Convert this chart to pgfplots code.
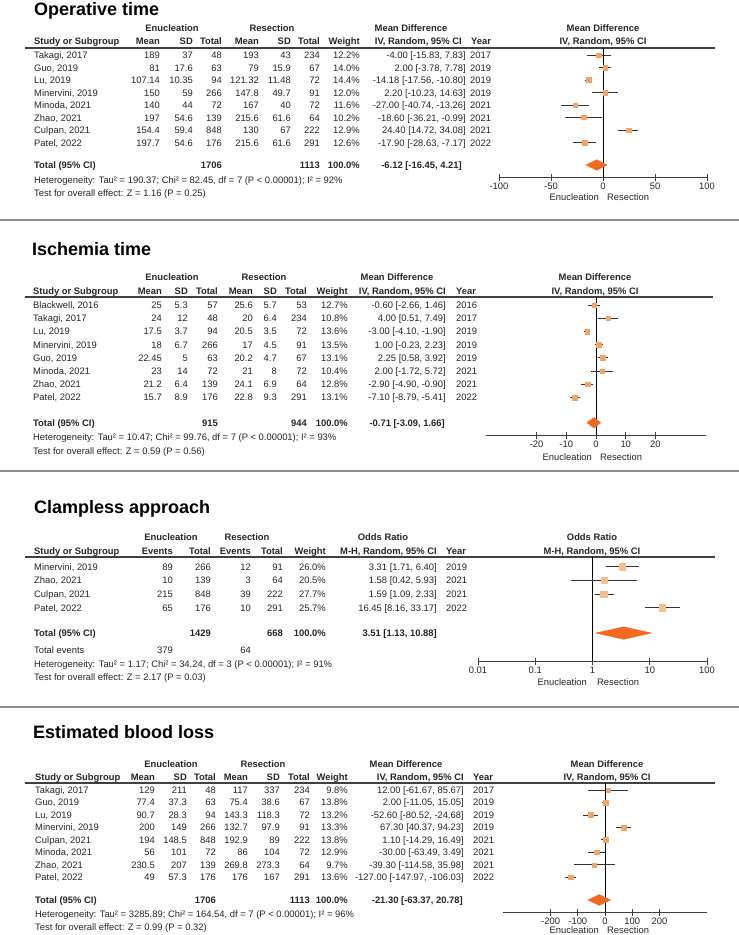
\documentclass[border=0pt]{standalone}
\usepackage{fontspec}
\setmainfont{Liberation Sans}
\usepackage{pgfplots}
\pgfplotsset{compat=1.18}
\definecolor{txt}{HTML}{262626}
\definecolor{sq}{HTML}{F2A466}
\definecolor{sql}{HTML}{F5BE8A}
\definecolor{dia}{HTML}{F26A22}
\definecolor{axc}{HTML}{404040}
\definecolor{cic}{HTML}{333333}
\definecolor{sepc}{HTML}{8C8C8C}
\newcommand\fs{\fontsize{9.4}{11}\selectfont}
\newcommand\fsb{\fontsize{9.4}{11}\selectfont\bfseries}
\newcommand\ttl{\fontsize{18}{20}\selectfont\bfseries}
\tikzset{zl/.style={draw=black, line width=0.8pt}}
\pgfplotsset{
  fp/.style={anchor=north west, scale only axis, axis x line=bottom, axis y line=none,
    x axis line style={-, draw=axc, line width=0.9pt}, tick align=center, major tick length=7pt,
    xtick style={draw=axc, line width=0.9pt}, clip=false, xminorticks=false,
    xticklabel style={font=\fs, text=txt, inner sep=0pt, yshift=-2pt}},
  ci/.style={draw=cic, line width=0.8pt, mark=none, forget plot},
  sqs/.style={only marks, mark=square*, color=sq, mark options={draw=sq, fill=sq, line width=0.2pt}, forget plot},
  dias/.style={fill=dia, draw=dia, line width=0.3pt, mark=none, forget plot}
}
% study: row, est, lo, hi, half-size
\newcommand\study[5]{%
  \addplot[ci] coordinates {(#3,#1) (#4,#1)};
  \addplot[sqs, mark size=#5] coordinates {(#2,#1)};
}
% diamond: row, est, lo, hi, top, bottom
\newcommand\diam[6]{%
  \addplot[dias] coordinates {(#3,#1) (#2,#5) (#4,#1) (#2,#6) (#3,#1)} --cycle;
}
% table row helpers
\newcommand\trow[9]{%
 \node[L] at (\cS,#1+3.5) {#2};
 \node[R] at (\cA,#1+3.5) {#3};
 \node[R] at (\cB,#1+3.5) {#4};
 \node[R] at (\cC,#1+3.5) {#5};
 \node[R] at (\cD,#1+3.5) {#6};
 \node[R] at (\cE,#1+3.5) {#7};
 \node[R] at (\cF,#1+3.5) {#8};
 \node[R] at (\cW,#1+3.5) {#9};}
\newcommand\mrow[3]{\node[R] at (\cM,#1+3.5) {#2}; \node[L] at (\cY,#1+3.5) {#3};}
\begin{document}
\begin{tikzpicture}
\useasboundingbox (0pt,0pt) rectangle (739pt,-935pt);
\begin{scope}[x=1pt,y=-1pt, every node/.style={inner sep=0pt, font=\fs, text=txt},
  L/.style={anchor=base west}, R/.style={anchor=base east}, C/.style={anchor=base}]
% ================= Panel 1 =================
\def\cS{34}\def\cA{160}\def\cB{193}\def\cC{222}\def\cD{259}\def\cE{291}\def\cF{320}\def\cW{360}\def\cM{466}\def\cY{470}
\node[L, font=\ttl, text=black] at (34,15.5) {Operative time};
\node[C, font=\fsb] at (172,31.5) {Enucleation};
\node[C, font=\fsb] at (272,31.5) {Resection};
\node[C, font=\fsb] at (411,31.5) {Mean Difference};
\node[C, font=\fsb] at (603,31.5) {Mean Difference};
\begin{scope}[every node/.append style={font=\fsb}]
\trow{41}{Study or Subgroup}{Mean}{SD}{Total}{Mean}{SD}{Total}{Weight}
\node[R] at (462,44.5) {IV, Random, 95\% CI};
\node[L] at (471,44.5) {Year};
\node[C] at (603,44.5) {IV, Random, 95\% CI};
\end{scope}
\draw[axc, line width=1.1pt] (25,48) -- (715,48);
\trow{55}{Takagi, 2017}{189}{37}{48}{193}{43}{234}{12.2\%}\mrow{55}{-4.00 [-15.83, 7.83]}{2017}
\trow{67.5}{Guo, 2019}{81}{17.6}{63}{79}{15.9}{67}{14.0\%}\mrow{67.5}{2.00 [-3.78, 7.78]}{2019}
\trow{80}{Lu, 2019}{107.14}{10.35}{94}{121.32}{11.48}{72}{14.4\%}\mrow{80}{-14.18 [-17.56, -10.80]}{2019}
\trow{92.5}{Minervini, 2019}{150}{59}{266}{147.8}{49.7}{91}{12.0\%}\mrow{92.5}{2.20 [-10.23, 14.63]}{2019}
\trow{105}{Minoda, 2021}{140}{44}{72}{167}{40}{72}{11.6\%}\mrow{105}{-27.00 [-40.74, -13.26]}{2021}
\trow{117.5}{Zhao, 2021}{197}{54.6}{139}{215.6}{61.6}{64}{10.2\%}\mrow{117.5}{-18.60 [-36.21, -0.99]}{2021}
\trow{130}{Culpan, 2021}{154.4}{59.4}{848}{130}{67}{222}{12.9\%}\mrow{130}{24.40 [14.72, 34.08]}{2021}
\trow{142.5}{Patel, 2022}{197.7}{54.6}{176}{215.6}{61.6}{291}{12.6\%}\mrow{142.5}{-17.90 [-28.63, -7.17]}{2022}
\begin{scope}[every node/.append style={font=\fsb}]
\trow{165}{Total (95\% CI)}{}{}{1706}{}{}{1113}{100.0\%}
\node[R] at (462,168.5) {-6.12 [-16.45, 4.21]};
\end{scope}
\node[L] at (34,183.5) {Heterogeneity: Tau² = 190.37; Chi² = 82.45, df = 7 (P < 0.00001); I² = 92\%};
\node[L] at (34,196.5) {Test for overall effect: Z = 1.16 (P = 0.25)};
\node[R] at (599,200.5) {Enucleation};
\node[L] at (607,200.5) {Resection};
\draw[sepc, line width=2.5pt] (0,220) -- (739,220);
% ================= Panel 2 =================
\def\cS{33}\def\cA{162}\def\cB{188}\def\cC{218}\def\cD{253}\def\cE{277}\def\cF{307}\def\cW{348}\def\cM{446}\def\cY{456}
\node[L, font=\ttl, text=black] at (32,255.5) {Ischemia time};
\node[C, font=\fsb] at (172,280.5) {Enucleation};
\node[C, font=\fsb] at (264,280.5) {Resection};
\node[C, font=\fsb] at (397,280.5) {Mean Difference};
\node[C, font=\fsb] at (595,280.5) {Mean Difference};
\begin{scope}[every node/.append style={font=\fsb}]
\trow{291}{Study or Subgroup}{Mean}{SD}{Total}{Mean}{SD}{Total}{Weight}
\node[R] at (446,294.5) {IV, Random, 95\% CI};
\node[L] at (456,294.5) {Year};
\node[C] at (595,294.5) {IV, Random, 95\% CI};
\end{scope}
\draw[axc, line width=1.1pt] (25,297) -- (713,297);
\trow{305}{Blackwell, 2016}{25}{5.3}{57}{25.6}{5.7}{53}{12.7\%}\mrow{305}{-0.60 [-2.66, 1.46]}{2016}
\trow{318.2}{Takagi, 2017}{24}{12}{48}{20}{6.4}{234}{10.8\%}\mrow{318.2}{4.00 [0.51, 7.49]}{2017}
\trow{331.4}{Lu, 2019}{17.5}{3.7}{94}{20.5}{3.5}{72}{13.6\%}\mrow{331.4}{-3.00 [-4.10, -1.90]}{2019}
\trow{344.6}{Minervini, 2019}{18}{6.7}{266}{17}{4.5}{91}{13.5\%}\mrow{344.6}{1.00 [-0.23, 2.23]}{2019}
\trow{357.8}{Guo, 2019}{22.45}{5}{63}{20.2}{4.7}{67}{13.1\%}\mrow{357.8}{2.25 [0.58, 3.92]}{2019}
\trow{371}{Minoda, 2021}{23}{14}{72}{21}{8}{72}{10.4\%}\mrow{371}{2.00 [-1.72, 5.72]}{2021}
\trow{384.2}{Zhao, 2021}{21.2}{6.4}{139}{24.1}{6.9}{64}{12.8\%}\mrow{384.2}{-2.90 [-4.90, -0.90]}{2021}
\trow{397.4}{Patel, 2022}{15.7}{8.9}{176}{22.8}{9.3}{291}{13.1\%}\mrow{397.4}{-7.10 [-8.79, -5.41]}{2022}
\begin{scope}[every node/.append style={font=\fsb}]
\trow{422.7}{Total (95\% CI)}{}{}{915}{}{}{944}{100.0\%}
\node[R] at (445,426.2) {-0.71 [-3.09, 1.66]};
\end{scope}
\node[L] at (33,440.8) {Heterogeneity: Tau² = 10.47; Chi² = 99.76, df = 7 (P < 0.00001); I² = 93\%};
\node[L] at (33,454) {Test for overall effect: Z = 0.59 (P = 0.56)};
\node[R] at (592,460.5) {Enucleation};
\node[L] at (600,460.5) {Resection};
\draw[sepc, line width=2.5pt] (0,471) -- (739,471);
% ================= Panel 3 =================
\node[L, font=\ttl, text=black] at (34,513.5) {Clampless approach};
\node[C, font=\fsb] at (171,540.5) {Enucleation};
\node[C, font=\fsb] at (247,540.5) {Resection};
\node[C, font=\fsb] at (383,540.5) {Odds Ratio};
\node[C, font=\fsb] at (592,540.5) {Odds Ratio};
\begin{scope}[every node/.append style={font=\fsb}]
\node[L] at (34,554.5) {Study or Subgroup};
\node[R] at (173,554.5) {Events};
\node[R] at (211,554.5) {Total};
\node[R] at (251,554.5) {Events};
\node[R] at (283,554.5) {Total};
\node[R] at (326,554.5) {Weight};
\node[R] at (437,554.5) {M-H, Random, 95\% CI};
\node[L] at (446,554.5) {Year};
\node[C] at (592,554.5) {M-H, Random, 95\% CI};
\end{scope}
\draw[axc, line width=1.1pt] (25,557) -- (715,557);
\newcommand\orow[8]{%
 \node[L] at (34,#1+3.5) {#2}; \node[R] at (173,#1+3.5) {#3}; \node[R] at (211,#1+3.5) {#4};
 \node[R] at (251,#1+3.5) {#5}; \node[R] at (283,#1+3.5) {#6}; \node[R] at (326,#1+3.5) {#7};
 \node[R] at (437,#1+3.5) {#8};}
\orow{566.7}{Minervini, 2019}{89}{266}{12}{91}{26.0\%}{3.31 [1.71, 6.40]}\node[L] at (446,570.2) {2019};
\orow{580.4}{Zhao, 2021}{10}{139}{3}{64}{20.5\%}{1.58 [0.42, 5.93]}\node[L] at (446,583.9) {2021};
\orow{594.1}{Culpan, 2021}{215}{848}{39}{222}{27.7\%}{1.59 [1.09, 2.33]}\node[L] at (446,597.6) {2021};
\orow{607.8}{Patel, 2022}{65}{176}{10}{291}{25.7\%}{16.45 [8.16, 33.17]}\node[L] at (446,611.3) {2022};
\begin{scope}[every node/.append style={font=\fsb}]
\orow{633}{Total (95\% CI)}{}{1429}{}{668}{100.0\%}{3.51 [1.13, 10.88]}
\end{scope}
\node[L] at (34,653.5) {Total events};
\node[R] at (173,653.5) {379};
\node[R] at (251,653.5) {64};
\node[L] at (34,667) {Heterogeneity: Tau² = 1.17; Chi² = 34.24, df = 3 (P < 0.00001); I² = 91\%};
\node[L] at (34,680.5) {Test for overall effect: Z = 2.17 (P = 0.03)};
\node[R] at (587,685.5) {Enucleation};
\node[L] at (597,685.5) {Resection};
\draw[sepc, line width=2.5pt] (0,707) -- (739,707);
% ================= Panel 4 =================
\def\cS{35}\def\cA{155}\def\cB{187}\def\cC{216}\def\cD{248}\def\cE{280}\def\cF{310}\def\cW{348}\def\cM{464}\def\cY{473}
\node[L, font=\ttl, text=black] at (33,738.5) {Estimated blood loss};
\node[C, font=\fsb] at (171,767.5) {Enucleation};
\node[C, font=\fsb] at (263,767.5) {Resection};
\node[C, font=\fsb] at (406,767.5) {Mean Difference};
\node[C, font=\fsb] at (607,767.5) {Mean Difference};
\begin{scope}[every node/.append style={font=\fsb}]
\trow{777}{Study or Subgroup}{Mean}{SD}{Total}{Mean}{SD}{Total}{Weight}
\node[R] at (464,780.5) {IV, Random, 95\% CI};
\node[L] at (473,780.5) {Year};
\node[C] at (607,780.5) {IV, Random, 95\% CI};
\end{scope}
\draw[axc, line width=1.1pt] (25,783) -- (715,783);
\trow{790}{Takagi, 2017}{129}{211}{48}{117}{337}{234}{9.8\%}\mrow{790}{12.00 [-61.67, 85.67]}{2017}
\trow{802.45}{Guo, 2019}{77.4}{37.3}{63}{75.4}{38.6}{67}{13.8\%}\mrow{802.45}{2.00 [-11.05, 15.05]}{2019}
\trow{814.9}{Lu, 2019}{90.7}{28.3}{94}{143.3}{118.3}{72}{13.2\%}\mrow{814.9}{-52.60 [-80.52, -24.68]}{2019}
\trow{827.35}{Minervini, 2019}{200}{149}{266}{132.7}{97.9}{91}{13.3\%}\mrow{827.35}{67.30 [40.37, 94.23]}{2019}
\trow{839.8}{Culpan, 2021}{194}{148.5}{848}{192.9}{89}{222}{13.8\%}\mrow{839.8}{1.10 [-14.29, 16.49]}{2021}
\trow{852.25}{Minoda, 2021}{56}{101}{72}{86}{104}{72}{12.9\%}\mrow{852.25}{-30.00 [-63.49, 3.49]}{2021}
\trow{864.7}{Zhao, 2021}{230.5}{207}{139}{269.8}{273.3}{64}{9.7\%}\mrow{864.7}{-39.30 [-114.58, 35.98]}{2021}
\trow{877.15}{Patel, 2022}{49}{57.3}{176}{176}{167}{291}{13.6\%}\mrow{877.15}{-127.00 [-147.97, -106.03]}{2022}
\begin{scope}[every node/.append style={font=\fsb}]
\trow{900}{Total (95\% CI)}{}{}{1706}{}{}{1113}{100.0\%}
\node[R] at (463,903.5) {-21.30 [-63.37, 20.78]};
\end{scope}
\node[L] at (35,917.5) {Heterogeneity: Tau² = 3285.89; Chi² = 164.54, df = 7 (P < 0.00001); I² = 96\%};
\node[L] at (35,930.5) {Test for overall effect: Z = 0.99 (P = 0.32)};
\node[R] at (599,933.5) {Enucleation};
\node[L] at (607,933.5) {Resection};
\end{scope}
% ================= Forest plots =================
\begin{axis}[fp, at={(499pt,-48pt)}, width=208pt, height=129pt,
  xmin=-100, xmax=100, ymin=-10.76, ymax=-0.44,
  xtick={-100,-50,0,50,100}, xticklabels={-100,-50,0,50,100}]
\draw[zl] (axis cs:0,-0.44) -- (axis cs:0,-10.76);
\study{-1}{-4.00}{-15.83}{7.83}{2.27}
\study{-2}{2.00}{-3.78}{7.78}{2.43}
\study{-3}{-14.18}{-17.56}{-10.80}{2.47}
\study{-4}{2.20}{-10.23}{14.63}{2.25}
\study{-5}{-27.00}{-40.74}{-13.26}{2.21}
\study{-6}{-18.60}{-36.21}{-0.99}{2.08}
\study{-7}{24.40}{14.72}{34.08}{2.33}
\study{-8}{-17.90}{-28.63}{-7.17}{2.31}
\diam{-9.8}{-6.12}{-16.45}{4.21}{-9.37}{-10.23}
\end{axis}
\begin{axis}[fp, at={(486pt,-297pt)}, width=220pt, height=138pt,
  xmin=-37, xmax=37, ymin=-10.85, ymax=-0.394,
  xtick={-20,-10,0,10,20}, xticklabels={-20,-10,0,10,20}]
\draw[zl] (axis cs:0,-0.394) -- (axis cs:0,-10.85);
\study{-1}{-0.60}{-2.66}{1.46}{2.32}
\study{-2}{4.00}{0.51}{7.49}{2.14}
\study{-3}{-3.00}{-4.10}{-1.90}{2.40}
\study{-4}{1.00}{-0.23}{2.23}{2.39}
\study{-5}{2.25}{0.58}{3.92}{2.35}
\study{-6}{2.00}{-1.72}{5.72}{2.10}
\study{-7}{-2.90}{-4.90}{-0.90}{2.33}
\study{-8}{-7.10}{-8.79}{-5.41}{2.35}
\diam{-9.92}{-0.71}{-3.09}{1.66}{-9.52}{-10.32}
\end{axis}
\begin{axis}[fp, at={(478pt,-557pt)}, width=229pt, height=104pt,
  xmode=log, xmin=0.01, xmax=100, ymin=-7.88, ymax=-0.292,
  xtick={0.01,0.1,1,10,100}, xticklabels={0.01,0.1,1,10,100},
  sqs/.append style={color=sql, mark options={draw=sql, fill=sql}}]
\draw[zl] (axis cs:1,-0.292) -- (axis cs:1,-7.88);
\study{-1}{3.31}{1.71}{6.40}{3.31}
\study{-2}{1.58}{0.42}{5.93}{2.94}
\study{-3}{1.59}{1.09}{2.33}{3.42}
\study{-4}{16.45}{8.16}{33.17}{3.30}
\diam{-5.84}{3.51}{1.13}{10.88}{-5.38}{-6.30}
\end{axis}
\begin{axis}[fp, at={(503pt,-783pt)}, width=204pt, height=129pt,
  xmin=-375, xmax=375, ymin=-10.8, ymax=-0.438,
  xtick={-200,-100,0,100,200}, xticklabels={-200,-100,0,100,200}]
\draw[zl] (axis cs:0,-0.438) -- (axis cs:0,-10.8);
\study{-1}{12.00}{-61.67}{85.67}{2.03}
\study{-2}{2.00}{-11.05}{15.05}{2.41}
\study{-3}{-52.60}{-80.52}{-24.68}{2.36}
\study{-4}{67.30}{40.37}{94.23}{2.37}
\study{-5}{1.10}{-14.29}{16.49}{2.41}
\study{-6}{-30.00}{-63.49}{3.49}{2.33}
\study{-7}{-39.30}{-114.58}{35.98}{2.02}
\study{-8}{-127.00}{-147.97}{-106.03}{2.40}
\diam{-9.835}{-21.30}{-63.37}{20.78}{-9.395}{-10.275}
\end{axis}
\end{tikzpicture}
\end{document}
